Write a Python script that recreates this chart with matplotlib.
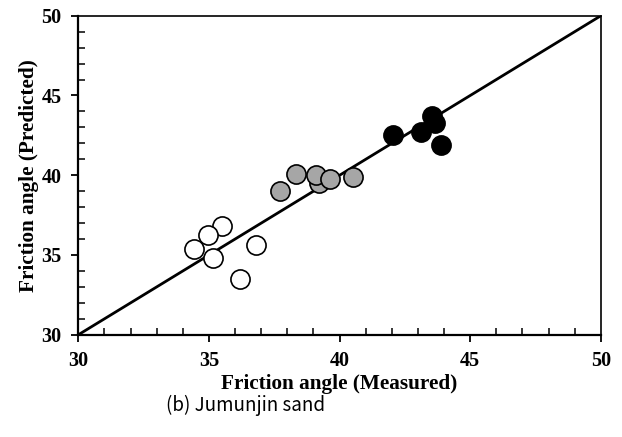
import matplotlib
matplotlib.use('Agg')
import matplotlib.pyplot as plt
from matplotlib.ticker import MultipleLocator


# measured / predicted friction angles, three groups
white_x = [35.5, 34.98, 34.42, 35.16, 36.8, 36.2]
white_y = [36.83, 36.26, 35.38, 34.8, 35.65, 33.5]

gray_x = [37.73, 38.34, 39.23, 39.1, 39.64, 40.51]
gray_y = [39.03, 40.06, 39.53, 40.02, 39.76, 39.9]

black_x = [42.03, 43.13, 43.67, 43.54, 43.89]
black_y = [42.52, 42.69, 43.3, 43.73, 41.89]

line_x = [30, 50]
line_y = [30, 50]


plt.rcParams['font.family'] = ['Liberation Serif', 'DejaVu Serif']
plt.rcParams['font.weight'] = 'bold'

fig = plt.figure(figsize = (6.22, 4.37), dpi = 100)
ax = fig.add_axes([0.126, 0.234, 0.84, 0.730])

ax.plot(line_x, line_y, color = 'black', linewidth = 2, zorder = 2)

ms = 190
ax.scatter(white_x, white_y, s = ms, facecolor = 'white', edgecolor = 'black', linewidth = 1.2, zorder = 3)
ax.scatter(gray_x, gray_y, s = ms, facecolor = '#a6a6a6', edgecolor = 'black', linewidth = 1.2, zorder = 3)
ax.scatter(black_x, black_y, s = ms, facecolor = 'black', edgecolor = 'black', linewidth = 1.2, zorder = 3)

ax.set_xlim(30, 50)
ax.set_ylim(30, 50)
ax.xaxis.set_major_locator(MultipleLocator(5))
ax.yaxis.set_major_locator(MultipleLocator(5))
ax.xaxis.set_minor_locator(MultipleLocator(1))
ax.yaxis.set_minor_locator(MultipleLocator(1))

ax.tick_params(which = 'major', direction = 'out', length = 5, width = 1.3, pad = 7, labelsize = 14.5)
ax.tick_params(which = 'minor', direction = 'in', length = 5, width = 1.1)
ax.tick_params(top = False, right = False, which = 'both')

ax.spines['left'].set_linewidth(1.6)
ax.spines['bottom'].set_linewidth(1.6)
ax.spines['top'].set_linewidth(1.2)
ax.spines['right'].set_linewidth(1.2)

ax.set_xlabel('Friction angle (Measured)', fontsize = 15.3, fontweight = 'bold', labelpad = 2)
ax.set_ylabel('Friction angle (Predicted)', fontsize = 15.3, fontweight = 'bold', labelpad = 2)

fig.text(0.394, 0.073, '(b) Jumunjin sand', fontsize = 13.5, fontweight = 'normal', ha = 'center', va = 'center',
         family = ['Noto Sans CJK KR', 'DejaVu Sans'])

fig.savefig('out.png', dpi = 100)
